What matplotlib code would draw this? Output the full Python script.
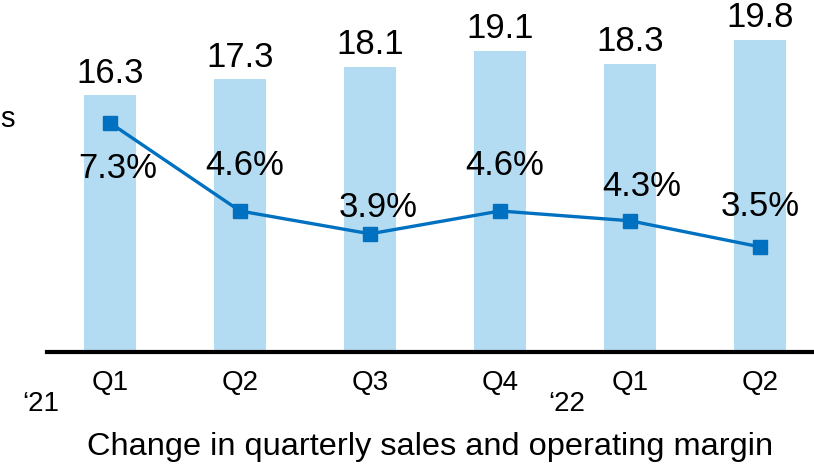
import numpy as np
import matplotlib
matplotlib.use('Agg')
import matplotlib.pyplot as plt

plt.rcParams['font.family'] = ['Liberation Sans', 'DejaVu Sans']

# data
quarters = ['Q1', 'Q2', 'Q3', 'Q4', 'Q1', 'Q2']
years = ['\u201821', '\u201822']
sales = [16.3, 17.3, 18.1, 19.1, 18.3, 19.8]
margin = [7.3, 4.6, 3.9, 4.6, 4.3, 3.5]
title = 'Change in quarterly sales and operating margin'

bar_color = '#B3DCF2'
line_color = '#0070C0'

# label offsets (px) for the margin labels, negative y = below the point
margin_dx = [8, 5, 8, 5, 12, 0]
margin_dy = [-46, 45, 26, 45, 34, 40]

W, H = 814, 467
fig = plt.figure(figsize=(W / 100, H / 100), dpi=100)
ax = fig.add_axes([47 / W, (H - 352) / H, 767 / W, 352 / H])

x = np.arange(len(sales))
ax.bar(x, sales, width=0.4, color=bar_color, zorder=1)
ax.set_xlim(-0.485, 5.415)
ax.set_ylim(0, 22.34)

for xi, v in zip(x, sales):
    ax.annotate(f'{v:.1f}', (xi, v), xytext=(0, 4), textcoords='offset points',
                ha='center', va='bottom', fontsize=25)

for s in ['top', 'right', 'left']:
    ax.spines[s].set_visible(False)
ax.spines['bottom'].set_linewidth(3)
ax.spines['bottom'].set_zorder(5)
ax.set_yticks([])
ax.set_xticks(x)
ax.set_xticklabels(quarters, fontsize=20)
ax.tick_params(axis='x', length=0, pad=13)

ax2 = ax.twinx()
ax2.set_ylim(0.276, 11.07)
ax2.plot(x, margin, color=line_color, lw=2.4, marker='s', markersize=10, zorder=3)
ax2.axis('off')
for xi, v, dx, dy in zip(x, margin, margin_dx, margin_dy):
    ax2.annotate(f'{v:.1f}%', (xi, v), xytext=(dx * 0.72, dy * 0.72), textcoords='offset points',
                 ha='center', va='center', fontsize=25)

fig.text(41 / W, 1 - 404 / H, years[0], ha='center', va='center', fontsize=20)
fig.text(567 / W, 1 - 404 / H, years[1], ha='center', va='center', fontsize=20)
fig.text(430 / W, 1 - 447 / H, title, ha='center', va='center', fontsize=23.4)
fig.text(0, 1 - 119 / H, 's', ha='left', va='center', fontsize=21)

fig.savefig('out.png', dpi=100)
